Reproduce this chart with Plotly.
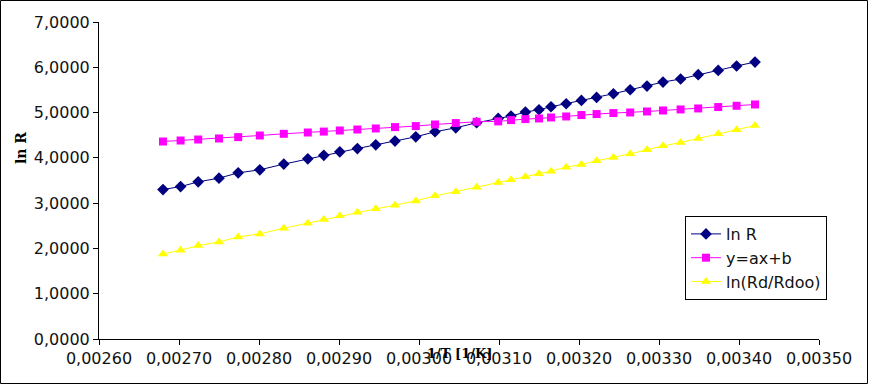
import plotly.graph_objects as go

inv_T = [0.002680, 0.002702, 0.002724, 0.002750, 0.002774, 0.002801, 0.002831, 0.002861,
         0.002881, 0.002901, 0.002923, 0.002946, 0.002970, 0.002996, 0.003020, 0.003046,
         0.003072, 0.003099, 0.003115, 0.003133, 0.003150, 0.003165, 0.003184, 0.003203,
         0.003222, 0.003243, 0.003264, 0.003285, 0.003305, 0.003327, 0.003349, 0.003374,
         0.003397, 0.003420]

ln_R = [3.300, 3.366, 3.470, 3.552, 3.669, 3.736, 3.862, 3.979, 4.056, 4.134, 4.206, 4.288,
        4.370, 4.465, 4.576, 4.664, 4.775, 4.870, 4.923, 5.011, 5.062, 5.128, 5.195, 5.268,
        5.334, 5.416, 5.504, 5.586, 5.674, 5.741, 5.836, 5.931, 6.028, 6.116]

fit_line = [4.361, 4.383, 4.405, 4.428, 4.458, 4.494, 4.531, 4.560, 4.580, 4.604, 4.626, 4.649,
            4.679, 4.702, 4.737, 4.768, 4.797, 4.805, 4.834, 4.856, 4.870, 4.892, 4.914, 4.945,
            4.967, 4.989, 5.002, 5.024, 5.046, 5.069, 5.091, 5.122, 5.150, 5.179]

ln_Rd_Rdoo = [1.879, 1.961, 2.062, 2.144, 2.255, 2.321, 2.447, 2.557, 2.637, 2.719, 2.801, 2.874,
              2.955, 3.050, 3.161, 3.249, 3.353, 3.455, 3.515, 3.581, 3.647, 3.707, 3.795, 3.853,
              3.935, 4.008, 4.089, 4.178, 4.266, 4.339, 4.428, 4.531, 4.620, 4.715]

x_ticks = [0.0026, 0.0027, 0.0028, 0.0029, 0.0030, 0.0031, 0.0032, 0.0033, 0.0034, 0.0035]
y_ticks = [0, 1, 2, 3, 4, 5, 6, 7]

W, H = 869, 385
L, R, T, B = 99, 50, 22, 46
pw, ph = W - L - R, H - T - B

fig = go.Figure()
fig.add_trace(go.Scatter(x=inv_T, y=ln_R, name="ln R", mode="lines+markers",
                         line=dict(color="#000080", width=1),
                         marker=dict(symbol="diamond", size=9, color="#000080")))
fig.add_trace(go.Scatter(x=inv_T, y=fit_line, name="y=ax+b", mode="lines+markers",
                         line=dict(color="#FF00FF", width=1),
                         marker=dict(symbol="square", size=8, color="#FF00FF")))
fig.add_trace(go.Scatter(x=inv_T, y=ln_Rd_Rdoo, name="ln(Rd/Rdoo)", mode="lines+markers",
                         line=dict(color="#FFFF00", width=1),
                         marker=dict(symbol="triangle-up", size=9, color="#FFFF00")))

tick_font = dict(family="DejaVu Sans", size=16, color="#111111")

fig.update_layout(
    width=W, height=H,
    margin=dict(l=L, r=R, t=T, b=B, pad=0),
    paper_bgcolor="white", plot_bgcolor="white",
    separators=", ",
    showlegend=True,
    legend=dict(x=(685 - L) / pw, y=(H - B - 216) / ph, xanchor="left", yanchor="top",
                bordercolor="black", borderwidth=1, bgcolor="white",
                font=dict(family="DejaVu Sans", size=16, color="#111111"),
                tracegroupgap=0),
    xaxis=dict(range=[0.0026, 0.0035], tickvals=x_ticks, tickformat=".5f",
               showgrid=False, zeroline=False, showline=True, linecolor="black", linewidth=1,
               ticks="outside", ticklen=5, tickcolor="black", tickfont=tick_font),
    yaxis=dict(range=[0, 7], tickvals=y_ticks, tickformat=".4f",
               showgrid=False, zeroline=False, showline=True, linecolor="black", linewidth=1,
               ticks="outside", ticklen=5, tickcolor="black", tickfont=tick_font),
    shapes=[dict(type="rect", xref="paper", yref="paper",
                 x0=(0.5 - L) / pw, x1=(867.5 - L) / pw,
                 y0=(H - B - 383.5) / ph, y1=(H - B - 0.5) / ph,
                 line=dict(color="black", width=1), fillcolor="rgba(0,0,0,0)")],
    annotations=[
        dict(text="<b>1/T [1/K]</b>", xref="paper", yref="paper", x=0.5, y=(H - B - 353) / ph,
             xanchor="center", yanchor="middle", showarrow=False,
             font=dict(family="DejaVu Serif", size=13, color="black")),
        dict(text="<b>ln R</b>", xref="paper", yref="paper", x=(21 - L) / pw, y=(H - B - 148) / ph,
             xanchor="center", yanchor="middle", showarrow=False, textangle=-90,
             font=dict(family="DejaVu Serif", size=14, color="black")),
    ],
)

fig.write_html("out.html", config={"displayModeBar": False},
               post_script="document.body.style.margin='0';document.body.style.padding='0';")
